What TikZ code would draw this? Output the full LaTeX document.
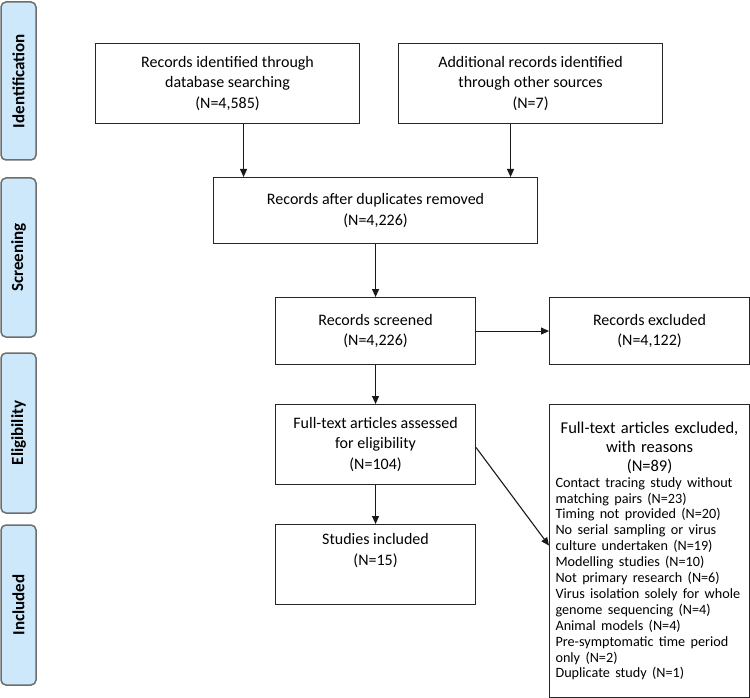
\documentclass[tikz,border=0pt]{standalone}
\usepackage{fontspec}
\setmainfont{Carlito}
\usetikzlibrary{arrows.meta}
\definecolor{phasefill}{HTML}{CCE8FA}
\definecolor{phaseline}{HTML}{6E6E6E}
\begin{document}
\begin{tikzpicture}[x=1pt,y=-1pt]
\tikzstyle{every node}=[font=\fontsize{16}{20.5}\selectfont,inner sep=0pt]
\tikzstyle{phase}=[draw=phaseline,fill=phasefill,line width=1.5pt,rounded corners=5pt,
                   rotate=90,minimum height=35pt,font=\fontsize{17}{19}\selectfont\bfseries]
\tikzstyle{box}=[draw=black!85,line width=1.1pt,align=center,anchor=north west]
\tikzstyle{arr}=[draw=black!90,line width=1.1pt,-{Triangle[length=8pt,width=7pt]}]
\useasboundingbox (0,0) rectangle (750,698);
\node[phase,minimum width=158pt] (ident) at (18.5,81) {Identification};
\node[phase,minimum width=159pt] (screen) at (18.5,257.5) {Screening};
\node[phase,minimum width=160pt] (elig) at (18.5,433) {Eligibility};
\node[phase,minimum width=160pt] (incl) at (18.5,605) {Included};
\node[box,minimum width=264pt,minimum height=80pt] (db) at (95,43)
  {Records identified through\\database searching\\(N=4,585)};
\node[box,minimum width=264pt,minimum height=80pt] (other) at (398,43)
  {Additional records identified\\through other sources\\(N=7)};
\node[box,minimum width=324pt,minimum height=66pt] (dedup) at (213,177)
  {Records after duplicates removed\\(N=4,226)};
\node[box,minimum width=200pt,minimum height=67pt] (screened) at (275,297)
  {Records screened\\(N=4,226)};
\node[box,minimum width=200pt,minimum height=67pt] (excl) at (549,297)
  {Records excluded\\(N=4,122)};
\node[box,minimum width=200pt,minimum height=80pt] (full) at (275,404)
  {Full-text articles assessed\\for eligibility\\(N=104)};
\node[box,minimum width=200pt,minimum height=80pt,text depth=30pt] (studies) at (275,524)
  {Studies included\\(N=15)};
\node[box,minimum width=200pt,minimum height=293pt,inner xsep=6pt,text width=188pt] (fullexcl) at (549,404)
  {{\centering\fontsize{16.5}{19}\selectfont Full-text articles excluded,\\with reasons\\(N=89)\par}
   {\raggedright\fontsize{14.2}{15.9}\selectfont
   Contact tracing study without\\matching pairs (N=23)\\Timing not provided (N=20)\\
   No serial sampling or virus\\culture undertaken (N=19)\\Modelling studies (N=10)\\
   Not primary research (N=6)\\Virus isolation solely for whole\\genome sequencing (N=4)\\
   Animal models (N=4)\\Pre-symptomatic time period\\only (N=2)\\Duplicate study (N=1)\par}};
\draw[arr] ([xshift=16pt]db.south) -- ([xshift=16pt]db.south |- dedup.north);
\draw[arr] ([xshift=-20pt]other.south) -- ([xshift=-20pt]other.south |- dedup.north);
\draw[arr] (dedup.south) -- (screened.north);
\draw[arr] (screened.east) -- (excl.west);
\draw[arr] (screened.south) -- (full.north);
\draw[arr] (full.south) -- (studies.north);
\draw[arr] ([yshift=-3pt]full.east) -- ([yshift=5.5pt]fullexcl.west);
\end{tikzpicture}
\end{document}
